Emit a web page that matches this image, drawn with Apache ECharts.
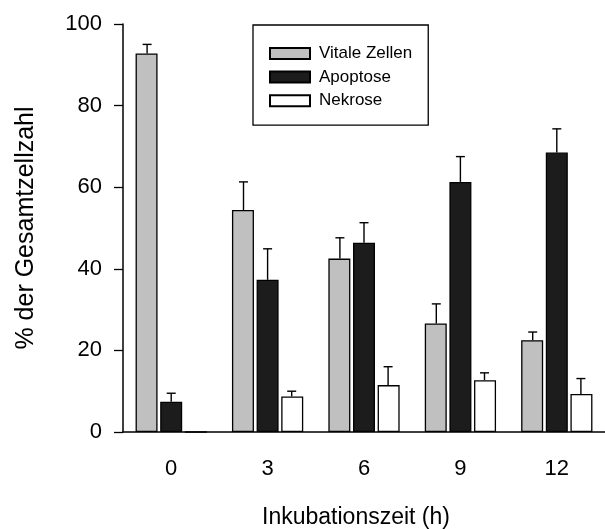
<!DOCTYPE html>
<html>
<head>
<meta charset="utf-8">
<style>
  html, body { margin: 0; padding: 0; background: #fff; }
  #chart { width: 605px; height: 529px; }
</style>
<script src="https://cdn.jsdelivr.net/npm/echarts@6/dist/echarts.min.js"></script>
</head>
<body>
<div id="chart"></div>
<script>
// Data
const categories = ["0", "3", "6", "9", "12"];
const seriesNames = ["Vitale Zellen", "Apoptose", "Nekrose"];
const vitale = [92.8, 54.4, 42.5, 26.6, 22.5];
const vitaleErr = [2.2, 6.9, 5.1, 4.8, 2.0];
const apoptose = [7.4, 37.3, 46.4, 61.3, 68.5];
const apoptoseErr = [2.1, 7.6, 4.9, 6.2, 5.8];
const nekrose = [0, 8.7, 11.5, 12.7, 9.3];
const nekroseErr = [0, 1.3, 4.5, 1.8, 3.8];
const yTicks = [0, 20, 40, 60, 80, 100];

const FONT = "Arial, 'Liberation Sans', Helvetica, sans-serif";
const barColors = ["#c0c0c0", "#1c1c1c", "#ffffff"];

const chart = echarts.init(document.getElementById("chart"));

// One bar series per group member
function barSeries(name, values, color) {
  return {
    name: name,
    type: "bar",
    data: values,
    barWidth: 22,
    barGap: "12%",
    itemStyle: { color: color, borderColor: "#000", borderWidth: 1.3 },
    z: 2,
  };
}

// Upward error bars, shifted to sit on the matching bar
function errorSeries(values, errs, slot) {
  return {
    type: "custom",
    data: values.map((v, i) => [i, v, v + errs[i], errs[i]]),
    z: 3,
    silent: true,
    renderItem: function (params, api) {
      if (api.value(3) <= 0) return null;
      const band = api.size([1, 0])[0];
      const off = (slot - 1) * band * 0.25;
      const base = api.coord([api.value(0), api.value(1)]);
      const top = api.coord([api.value(0), api.value(2)]);
      const x = base[0] + off;
      const half = 4.5;
      const style = { stroke: "#000", lineWidth: 1.4 };
      return {
        type: "group",
        children: [
          { type: "line", shape: { x1: x, y1: base[1], x2: x, y2: top[1] }, style: style },
          { type: "line", shape: { x1: x - half, y1: top[1], x2: x + half, y2: top[1] }, style: style },
        ],
      };
    },
  };
}

const option = {
  animation: false,
  backgroundColor: "#fff",
  textStyle: { fontFamily: FONT, color: "#000" },
  grid: { left: 123, top: 24, bottom: 97, width: 492 },
  title: {
    text: "Inkubationszeit (h)",
    left: 351,
    top: 501,
    textAlign: "center",
    textStyle: { fontFamily: FONT, fontSize: 23, fontWeight: "normal", color: "#000" },
  },
  legend: {
    data: seriesNames,
    orient: "vertical",
    left: 253,
    top: 25,
    padding: [20, 16, 16, 16],
    icon: "rect",
    itemWidth: 40,
    itemHeight: 11,
    itemGap: 6.6,
    borderColor: "#000",
    borderWidth: 1.3,
    textStyle: { fontFamily: FONT, fontSize: 17, lineHeight: 17, color: "#000", padding: [0, 0, 0, 4] },
  },
  xAxis: {
    type: "category",
    data: categories,
    axisLine: { lineStyle: { color: "#000", width: 1.5 } },
    axisTick: { alignWithLabel: true, length: 9, lineStyle: { color: "#000", width: 1.3 } },
    axisLabel: { fontFamily: FONT, fontSize: 22, color: "#000", margin: 26 },
  },
  yAxis: {
    type: "value",
    min: yTicks[0],
    max: yTicks[yTicks.length - 1],
    interval: yTicks[1] - yTicks[0],
    name: "% der Gesamtzellzahl",
    nameLocation: "middle",
    nameGap: 84,
    nameTextStyle: { fontFamily: FONT, fontSize: 25, color: "#000" },
    axisLine: { show: true, lineStyle: { color: "#000", width: 1.5 } },
    axisTick: { show: true, length: 9, lineStyle: { color: "#000", width: 1.3 } },
    axisLabel: { fontFamily: FONT, fontSize: 22, color: "#000", margin: 21 },
    splitLine: { show: false },
  },
  series: [
    barSeries(seriesNames[0], vitale, barColors[0]),
    barSeries(seriesNames[1], apoptose, barColors[1]),
    barSeries(seriesNames[2], nekrose, barColors[2]),
    errorSeries(vitale, vitaleErr, 0),
    errorSeries(apoptose, apoptoseErr, 1),
    errorSeries(nekrose, nekroseErr, 2),
  ],
};

chart.setOption(option);
</script>
</body>
</html>
